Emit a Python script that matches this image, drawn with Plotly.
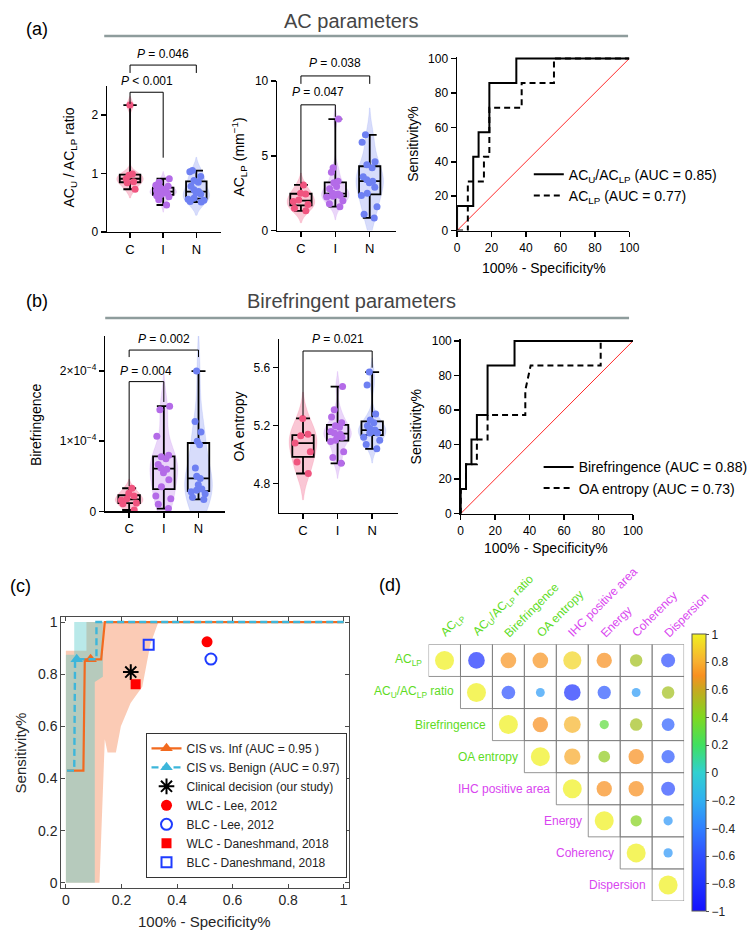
import numpy as np
import plotly.graph_objects as go

W, H = 756, 941
FONT = "Liberation Sans, Arial, Helvetica, sans-serif"

# ---------------- data ----------------
groups = ["C", "I", "N"]

# (a) AC_U / AC_LP ratio
ratio_C = [2.17, 0.99, 0.97, 0.91, 0.86, 0.84, 0.73]
ratio_I = [0.91, 0.85, 0.80, 0.78, 0.75, 0.73, 0.71, 0.70, 0.68, 0.67, 0.66, 0.64, 0.62, 0.60, 0.55, 0.46]
ratio_N = [1.05, 1.03, 0.95, 0.88, 0.85, 0.78, 0.72, 0.69, 0.67, 0.65, 0.58, 0.56, 0.54, 0.52, 0.51]
# (a) AC_LP (mm^-1)
aclp_C = [3.05, 2.5, 2.45, 2.05, 1.95, 1.75, 1.5, 1.32]
aclp_I = [7.45, 4.2, 3.9, 3.3, 3.2, 2.95, 2.8, 2.5, 2.45, 2.4, 2.35, 2.3, 2.25, 2.0, 1.8, 1.6]
aclp_N = [6.4, 5.9, 4.6, 4.4, 4.2, 3.6, 3.4, 3.3, 3.2, 2.9, 2.5, 2.35, 1.6, 1.1, 0.85]
# (b) Birefringence
biref_C = [3.3e-5, 2.6e-5, 2.2e-5, 1.8e-5, 1.6e-5, 1.2e-5, 1.1e-5, 0.2e-5]
biref_I = [1.5e-4, 1.45e-4, 1.07e-4, 8.0e-5, 7.8e-5, 7.5e-5, 6.7e-5, 6.2e-5, 6.0e-5, 5.5e-5,
           4.5e-5, 3.5e-5, 2.2e-5, 1.8e-5, 1.0e-5, 0.4e-5]
biref_N = [2.0e-4, 1.28e-4, 1.13e-4, 1.0e-4, 9.5e-5, 6.2e-5, 5.0e-5, 4.7e-5, 3.8e-5, 3.2e-5,
           3.0e-5, 2.8e-5, 2.5e-5, 2.0e-5, 1.7e-5]
# (b) OA entropy
oa_C = [5.25, 5.14, 5.13, 5.08, 5.02, 4.95, 4.87]
oa_I = [5.47, 5.31, 5.26, 5.22, 5.20, 5.19, 5.16, 5.15, 5.14, 5.13, 5.12, 5.10, 5.09, 5.02, 4.98, 4.94]
oa_N = [5.57, 5.48, 5.28, 5.24, 5.22, 5.20, 5.18, 5.17, 5.16, 5.15, 5.15, 5.12, 5.10, 5.07, 5.04]

# ROC curves (a)
roc_ratio_fpr = [0, 0, 9.4, 9.4, 12.5, 12.5, 18.75, 18.75, 34.4, 34.4, 100]
roc_ratio_tpr = [0, 14.3, 14.3, 42.9, 42.9, 57.1, 57.1, 85.7, 85.7, 100, 100]
roc_aclp_fpr = [0, 6.25, 6.25, 15.6, 15.6, 18.75, 18.75, 37.5, 37.5, 56.25, 56.25, 100]
roc_aclp_tpr = [0, 0, 28.6, 28.6, 42.9, 42.9, 71.4, 71.4, 85.7, 85.7, 100, 100]
# ROC curves (b)
roc_biref_fpr = [0, 0, 3.1, 3.1, 6.25, 6.25, 9.4, 9.4, 15.6, 15.6, 31.25, 31.25, 100]
roc_biref_tpr = [0, 14.3, 14.3, 28.6, 28.6, 42.9, 42.9, 57.1, 57.1, 85.7, 85.7, 100, 100]
roc_oa_fpr = [0, 0, 3.1, 3.1, 9.4, 9.4, 15.6, 15.6, 37.5, 37.5, 40.6, 81.25, 81.25, 100]
roc_oa_tpr = [0, 14.3, 14.3, 28.6, 28.6, 42.9, 42.9, 57.1, 57.1, 71.4, 85.7, 85.7, 100, 100]
chance = [0, 100]

# (c) ROC with confidence bands
inf_fpr = [0.004, 0.063, 0.068, 0.127, 0.14, 1.0]
inf_tpr = [0.43, 0.43, 0.857, 0.857, 1.0, 1.0]
inf_op = (0.089, 0.857)
ben_fpr = [0.004, 0.03, 0.033, 0.11, 0.11, 1.0]
ben_tpr = [0.43, 0.43, 0.857, 0.857, 1.0, 1.0]
ben_op = (0.039, 0.857)
inf_band_x = [0.0, 0.0, 0.074, 0.074, 0.333, 0.304, 0.275, 0.233, 0.198, 0.18, 0.15, 0.14, 0.121, 0.0]
inf_band_y = [0.0, 0.89, 0.89, 1.0, 1.0, 0.915, 0.752, 0.689, 0.6, 0.5, 0.5, 0.55, 0.0, 0.0]
ben_band_x = [0.0, 0.0, 0.03, 0.03, 0.133, 0.133, 0.104, 0.104, 0.0]
ben_band_y = [0.0, 0.875, 0.875, 1.0, 1.0, 0.79, 0.77, 0.0, 0.0]
clin_pt = (0.2335, 0.808)
wlc_lee = (0.508, 0.924)
blc_lee = (0.522, 0.858)
wlc_dan = (0.251, 0.761)
blc_dan = (0.298, 0.913)

# (d) correlation matrix (upper triangle)
corr_labels = ["AC<sub>LP</sub>", "AC<sub>U</sub>/AC<sub>LP</sub> ratio", "Birefringence", "OA entropy",
               "IHC positive area", "Energy", "Coherency", "Dispersion"]
corr_label_group = ["oct", "oct", "oct", "oct", "tex", "tex", "tex", "tex"]
corr_rows = [
    [1.00, -0.80, 0.72, 0.72, 0.92, 0.70, 0.50, -0.60],
    [1.00, -0.58, -0.28, -0.80, -0.55, -0.28, 0.50],
    [1.00, 0.70, 0.82, 0.30, 0.50, -0.52],
    [1.00, 0.78, 0.45, 0.70, -0.55],
    [1.00, 0.70, 0.70, -0.60],
    [1.00, 0.42, -0.30],
    [1.00, -0.30],
    [1.00],
]
cbar_ticks = [-1, -0.8, -0.6, -0.4, -0.2, 0, 0.2, 0.4, 0.6, 0.8, 1]

# ---------------- helpers ----------------
def px(x):
    return x / W


def py(y):
    return 1 - y / H


AX = {
    'a1': dict(n=1, xd=(106, 222), yd=(80, 228.3), xr=[-0.69, 2.75], yr=[0, 2.5]),
    'a2': dict(n=2, xd=(279, 399.4), yd=(75, 227), xr=[-0.69, 2.75], yr=[0, 10]),
    'a3': dict(n=3, xd=(462, 637.3), yd=(50.5, 227), xr=[0, 100], yr=[0, 101]),
    'b1': dict(n=4, xd=(104, 225.4), yd=(334, 512), xr=[-0.69, 2.75], yr=[0, 2.5e-4]),
    'b2': dict(n=5, xd=(281, 402), yd=(336.7, 513.3), xr=[-0.69, 2.75], yr=[4.6, 5.8]),
    'b3': dict(n=6, xd=(465.7, 641), yd=(337.2, 514.3), xr=[0, 100], yr=[0, 101]),
    'c': dict(n=7, xd=(59.3, 351.7), yd=(619.3, 894), xr=[-0.0166, 1.0177], yr=[-0.019, 1.019]),
    'd': dict(n=8, xd=(433, 693), yd=(647, 907.5), xr=[-0.5, 7.5], yr=[7.5, -0.5]),
}


def suf(key):
    n = AX[key]['n']
    return '' if n == 1 else str(n)


def dom(v, rng):
    return (v - rng[0]) / (rng[1] - rng[0])


layout_axes = {}


def add_axes(key, xkw, ykw):
    a = AX[key]
    s = suf(key)
    xd = dict(xkw)
    yd = dict(ykw)
    xd.update(domain=[px(a['xd'][0]), px(a['xd'][1])], range=a['xr'], anchor='y' + s)
    yd.update(domain=[py(a['yd'][1]), py(a['yd'][0])], range=a['yr'], anchor='x' + s)
    layout_axes['xaxis' + s] = xd
    layout_axes['yaxis' + s] = yd


line_ax = dict(showline=True, linecolor='black', linewidth=1.5, ticks='outside', ticklen=5,
               tickwidth=1.5, tickcolor='black', showgrid=False, zeroline=False,
               tickfont=dict(size=12, color='black'), fixedrange=True)
cat_x = dict(line_ax, type='category', categoryorder='array', categoryarray=groups,
             tickfont=dict(size=13, color='black'))
roc_ax = dict(line_ax, tickvals=list(range(0, 101, 20)), tickfont=dict(size=12, color='black'))

add_axes('a1', cat_x, dict(line_ax, tickvals=[0, 1, 2]))
add_axes('a2', cat_x, dict(line_ax, tickvals=[0, 5, 10]))
add_axes('a3', roc_ax, roc_ax)
add_axes('b1', cat_x, dict(line_ax, tickvals=[0, 1e-4, 2e-4],
                           ticktext=['0', '1×10<sup>−4</sup>', '2×10<sup>−4</sup>']))
add_axes('b2', cat_x, dict(line_ax, tickvals=[4.8, 5.2, 5.6], ticktext=['4.8', '5.2', '5.6']))
add_axes('b3', roc_ax, roc_ax)
c_ax = dict(showline=True, mirror='ticks', linecolor='#4a4a4a', linewidth=1, ticks='inside', ticklen=4,
            tickcolor='#4a4a4a', tickvals=[0, 0.2, 0.4, 0.6, 0.8, 1], showgrid=False, zeroline=False,
            tickfont=dict(size=14, color='#262626'), fixedrange=True)
add_axes('c', c_ax, c_ax)
add_axes('d', dict(visible=False, fixedrange=True), dict(visible=False, fixedrange=True))

fig = go.Figure()

pt_cols = ['#F0557F', '#B46BE8', '#6E80F2']
vio_fills = ['rgba(240,85,127,0.33)', 'rgba(180,107,232,0.28)', 'rgba(110,128,242,0.28)']


def box_panel(key, data_list):
    s = suf(key)
    for g, vals, col, fill in zip(groups, data_list, pt_cols, vio_fills):
        v = np.array(vals, dtype=float)
        fig.add_trace(go.Violin(x=[g] * len(v), y=v, xaxis='x' + s, yaxis='y' + s, fillcolor=fill,
                                line=dict(color=fill, width=0.5), points=False, width=0.8,
                                spanmode='soft', hoverinfo='skip', showlegend=False))
        q1, med, q3 = np.percentile(v, [25, 50, 75])
        fig.add_trace(go.Box(x=[g], q1=[q1], median=[med], q3=[q3], lowerfence=[v.min()],
                             upperfence=[v.max()], xaxis='x' + s, yaxis='y' + s, boxpoints=False,
                             fillcolor='rgba(0,0,0,0)', line=dict(color='black', width=1.8),
                             width=0.62, whiskerwidth=0.65, showlegend=False, hoverinfo='skip'))
        fig.add_trace(go.Box(x=[g] * len(v), y=v, xaxis='x' + s, yaxis='y' + s, boxpoints='all',
                             jitter=0.95, pointpos=0, fillcolor='rgba(0,0,0,0)',
                             line=dict(color='rgba(0,0,0,0)', width=0), width=0.62,
                             marker=dict(color=col, size=7), showlegend=False, hoverinfo='skip'))


box_panel('a1', [ratio_C, ratio_I, ratio_N])
box_panel('a2', [aclp_C, aclp_I, aclp_N])
box_panel('b1', [biref_C, biref_I, biref_N])
box_panel('b2', [oa_C, oa_I, oa_N])

DASH = '6px,4px'


def roc_panel(key, fpr1, tpr1, name1, fpr2, tpr2, name2, legend):
    s = suf(key)
    fig.add_trace(go.Scatter(x=chance, y=chance, mode='lines', line=dict(color='#ff2a2a', width=1),
                             xaxis='x' + s, yaxis='y' + s, showlegend=False, hoverinfo='skip'))
    fig.add_trace(go.Scatter(x=fpr2, y=tpr2, mode='lines', line=dict(color='black', width=2, dash=DASH),
                             xaxis='x' + s, yaxis='y' + s, name=name2, legend=legend,
                             legendgroup=legend + 'b', legendrank=2))
    fig.add_trace(go.Scatter(x=fpr1, y=tpr1, mode='lines', line=dict(color='black', width=2),
                             xaxis='x' + s, yaxis='y' + s, name=name1, legend=legend,
                             legendgroup=legend + 'a', legendrank=1))


roc_panel('a3', roc_ratio_fpr, roc_ratio_tpr, 'AC<sub>U</sub>/AC<sub>LP</sub> (AUC = 0.85)',
          roc_aclp_fpr, roc_aclp_tpr, 'AC<sub>LP</sub> (AUC = 0.77)', 'legend')
roc_panel('b3', roc_biref_fpr, roc_biref_tpr, 'Birefringence (AUC = 0.88)',
          roc_oa_fpr, roc_oa_tpr, 'OA entropy (AUC = 0.73)', 'legend2')

# ---- (c)
ORANGE = '#F26A1F'
CYAN = '#3DB6DA'
sc = suf('c')
fig.add_trace(go.Scatter(x=inf_band_x, y=inf_band_y, fill='toself', fillcolor='rgba(246,140,90,0.45)',
                         mode='lines', line=dict(width=0), xaxis='x' + sc, yaxis='y' + sc,
                         showlegend=False, hoverinfo='skip'))
fig.add_trace(go.Scatter(x=ben_band_x, y=ben_band_y, fill='toself', fillcolor='rgba(80,200,200,0.40)',
                         mode='lines', line=dict(width=0), xaxis='x' + sc, yaxis='y' + sc,
                         showlegend=False, hoverinfo='skip'))
TRANSP = 'rgba(0,0,0,0)'
ix = [inf_op[0], None] + inf_fpr
iy = [inf_op[1], None] + inf_tpr
inf_marker = dict(symbol='triangle-up', size=11, color=[ORANGE] + [TRANSP] * (len(ix) - 1))
fig.add_trace(go.Scatter(x=ix, y=iy, mode='lines+markers', line=dict(color=ORANGE, width=2.2),
                         marker=inf_marker, name='CIS vs. Inf (AUC = 0.95 )', legend='legend3',
                         xaxis='x' + sc, yaxis='y' + sc))
bx = [ben_op[0], None] + ben_fpr
by = [ben_op[1], None] + ben_tpr
ben_marker = dict(symbol='triangle-up', size=11, color=[CYAN] + [TRANSP] * (len(bx) - 1))
fig.add_trace(go.Scatter(x=bx, y=by, mode='lines+markers', line=dict(color=CYAN, width=2.4, dash='7px,4px'),
                         marker=ben_marker, name='CIS vs. Benign (AUC = 0.97)', legend='legend3',
                         xaxis='x' + sc, yaxis='y' + sc))
pts = [
    (clin_pt, 'Clinical decision (our study)',
     dict(symbol='asterisk-open', size=13, color='black', line=dict(width=2, color='black'))),
    (wlc_lee, 'WLC - Lee, 2012', dict(symbol='circle', size=11, color='#FF0000')),
    (blc_lee, 'BLC - Lee, 2012',
     dict(symbol='circle-open', size=11, color='#1F3CFF', line=dict(width=2, color='#1F3CFF'))),
    (wlc_dan, 'WLC - Daneshmand, 2018', dict(symbol='square', size=10, color='#FF0000')),
    (blc_dan, 'BLC - Daneshmand, 2018',
     dict(symbol='square-open', size=10, color='#1F3CFF', line=dict(width=2, color='#1F3CFF'))),
]
for (xy, nm, mk) in pts:
    fig.add_trace(go.Scatter(x=[xy[0]], y=[xy[1]], mode='markers', marker=mk, name=nm, legend='legend3',
                             xaxis='x' + sc, yaxis='y' + sc))

# ---- (d)
CS = [[0.0, '#1410ff'], [0.1, '#2034ff'], [0.2, '#3050ff'], [0.3, '#3080ff'], [0.4, '#30b0f0'],
      [0.5, '#30d0d0'], [0.6, '#40e060'], [0.7, '#80d820'], [0.8, '#c8a820'], [0.85, '#f89020'],
      [0.9, '#f8b030'], [1.0, '#f0f020']]
sd = suf('d')
cx, cy, cv = [], [], []
for i, row in enumerate(corr_rows):
    for k, v in enumerate(row):
        cx.append(i + k)
        cy.append(i)
        cv.append(v)
cv = np.array(cv)
sizes = 19 * np.abs(cv) ** 0.6
cbar = dict(x=px(701), xanchor='left', xpad=0, y=py(777.5), yanchor='middle', ypad=0,
            len=281 / H, lenmode='fraction', thickness=14, outlinewidth=1, outlinecolor='#555',
            tickvals=cbar_ticks, ticks='outside', ticklen=3, tickcolor='#555',
            tickfont=dict(size=12, color='#222'))
d_marker = dict(size=sizes, color=cv, colorscale=CS, cmin=-1, cmax=1, opacity=0.72,
                line=dict(width=0), colorbar=cbar)
fig.add_trace(go.Scatter(x=cx, y=cy, mode='markers', xaxis='x' + sd, yaxis='y' + sd, showlegend=False,
                         hoverinfo='skip', marker=d_marker))

shapes = []
annotations = []
GREEN = '#5EDC1F'
MAGENTA = '#D945F0'
dxr = AX['d']['xr']
dyr = AX['d']['yr']
for i in range(len(corr_labels)):
    for j in range(i, len(corr_labels)):
        shapes.append(dict(type='rect', xref='x' + sd, yref='y' + sd, x0=j - 0.5, x1=j + 0.5, y0=i - 0.5,
                           y1=i + 0.5, line=dict(color='#7a7a7a', width=0.8), layer='below'))
    colr = GREEN if corr_label_group[i] == 'oct' else MAGENTA
    annotations.append(dict(xref='x' + sd + ' domain', yref='y' + sd + ' domain',
                            x=dom(i - 0.63, dxr), y=dom(i, dyr), text=corr_labels[i],
                            showarrow=False, xanchor='right', yanchor='middle',
                            font=dict(size=12, color=colr)))
    annotations.append(dict(xref='x' + sd + ' domain', yref='y' + sd + ' domain',
                            x=dom(i - 0.3, dxr), y=dom(-0.55, dyr), text=corr_labels[i],
                            showarrow=False, xanchor='left', yanchor='bottom', textangle=-45,
                            font=dict(size=12, color=colr)))


# ---- brackets
def add_brackets(key, specs):
    s = suf(key)
    a = AX[key]
    xref = 'x' + s + ' domain'
    yref = 'y' + s + ' domain'
    for (i0, i1, ytop, yl0, yl1, label, ytext) in specs:
        x0 = dom(i0, a['xr'])
        x1 = dom(i1, a['xr'])
        yt = dom(ytop, a['yr'])
        segs = [(x0, dom(yl0, a['yr']), x0, yt), (x0, yt, x1, yt), (x1, yt, x1, dom(yl1, a['yr']))]
        for (xa, ya, xb, yb) in segs:
            shapes.append(dict(type='line', xref=xref, yref=yref, x0=xa, y0=ya, x1=xb, y1=yb,
                               line=dict(color='black', width=1)))
        annotations.append(dict(xref=xref, yref=yref, x=(x0 + x1) / 2, y=dom(ytext, a['yr']), text=label,
                                showarrow=False, xanchor='center', yanchor='middle',
                                font=dict(size=12, color='black')))


add_brackets('a1', [(0, 1, 2.39, 2.19, 1.27, '<i>P</i> < 0.001', 2.58),
                    (0, 2, 2.855, 2.72, 2.72, '<i>P</i> = 0.046', 3.05)])
add_brackets('a2', [(0, 1, 8.4, 3.15, 7.6, '<i>P</i> = 0.047', 9.23),
                    (0, 2, 10.33, 9.8, 9.8, '<i>P</i> = 0.038', 11.2)])
add_brackets('b1', [(0, 1, 1.85e-4, 0.36e-4, 1.56e-4, '<i>P</i> = 0.004', 2.0e-4),
                    (0, 2, 2.3e-4, 2.2e-4, 2.2e-4, '<i>P</i> = 0.002', 2.46e-4)])
add_brackets('b2', [(0, 2, 5.715, 5.27, 5.6, '<i>P</i> = 0.021', 5.8)])


# ---- titles / labels
def ann(x, y, text, size, color='black', angle=0, xanchor='center'):
    annotations.append(dict(xref='paper', yref='paper', x=px(x), y=py(y), text=text, showarrow=False,
                            xanchor=xanchor, yanchor='middle', textangle=angle,
                            font=dict(size=size, color=color)))


ann(21, 22, '(a)', 18, xanchor='left')
ann(355, 14, 'AC parameters', 20, color='#454545')
ann(21, 298, '(b)', 18, xanchor='left')
ann(355, 298, 'Birefringent parameters', 20, color='#454545')
ann(5, 588, '(c)', 18, xanchor='left')
ann(381, 587, '(d)', 18, xanchor='left')

ann(68, 153, 'AC<sub>U</sub> / AC<sub>LP</sub> ratio', 14, angle=-90)
ann(240, 152, 'AC<sub>LP</sub> (mm<sup>−1</sup>)', 14, angle=-90)
ann(417, 139, 'Sensitivity%', 14, angle=-90)
ann(550, 265, '100% - Specificity%', 14)
ann(33, 424, 'Birefringence', 14, angle=-90)
ann(240, 426, 'OA entropy', 14, angle=-90)
ann(420, 426, 'Sensitivity%', 14, angle=-90)
ann(553, 549, '100% - Specificity%', 14)
ann(18, 757, 'Sensitivity%', 15, color='#262626', angle=-90)
ann(205, 928, '100% - Specificity%', 15, color='#262626')

shapes.append(dict(type='line', xref='paper', yref='paper', x0=px(103), x1=px(636), y0=py(29.5), y1=py(29.5),
                   line=dict(color='#8e9c9c', width=2.5)))
shapes.append(dict(type='line', xref='paper', yref='paper', x0=px(104), x1=px(637), y0=py(315.7),
                   y1=py(315.7), line=dict(color='#8e9c9c', width=2.5)))

fig.update_layout(
    width=W, height=H, margin=dict(l=0, r=0, t=0, b=0), autosize=False,
    paper_bgcolor='white', plot_bgcolor='rgba(0,0,0,0)',
    font=dict(family=FONT, color='black'),
    boxmode='overlay', violinmode='overlay',
    shapes=shapes, annotations=annotations,
    legend=dict(x=px(535), y=py(154), xanchor='left', yanchor='top', bgcolor='rgba(0,0,0,0)',
                font=dict(size=14), tracegroupgap=3, traceorder='normal'),
    legend2=dict(x=px(545), y=py(451), xanchor='left', yanchor='top', bgcolor='rgba(0,0,0,0)',
                 font=dict(size=14), tracegroupgap=3, traceorder='normal'),
    legend3=dict(x=px(145), y=py(884), xanchor='left', yanchor='bottom', bgcolor='white',
                 bordercolor='#333', borderwidth=1, font=dict(size=12, color='#222'), tracegroupgap=0),
    **layout_axes,
)

fig.write_html("out.html", include_plotlyjs=True, full_html=True,
               config=dict(displayModeBar=False, staticPlot=True),
               post_script="document.body.style.margin='0px';")
